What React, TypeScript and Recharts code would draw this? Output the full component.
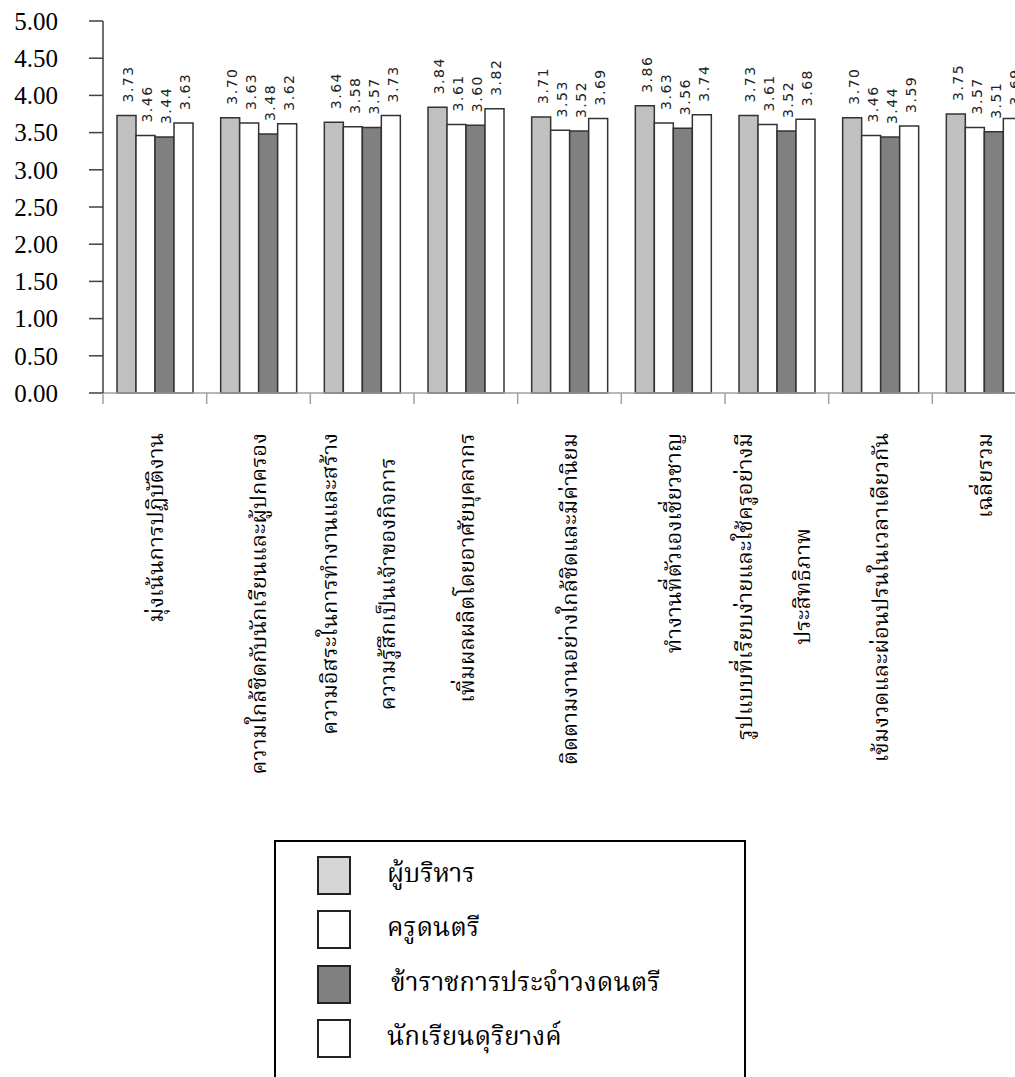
import { BarChart, Bar, XAxis, YAxis, Legend, LabelList } from 'recharts'

// categories (multi-line labels split by \n)
const CATEGORIES = [
  'มุ่งเน้นการปฏิบัติงาน',
  'ความใกล้ชิดกับนักเรียนและผู้ปกครอง',
  'ความอิสระในการทำงานและสร้าง\nความรู้สึกเป็นเจ้าของกิจการ',
  'เพิ่มผลผลิตโดยอาศัยบุคลากร',
  'ติดตามงานอย่างใกล้ชิดและมีค่านิยม',
  'ทำงานที่ตัวเองเชี่ยวชาญ',
  'รูปแบบที่เรียบง่ายและใช้ครูอย่างมี\nประสิทธิภาพ',
  'เข้มงวดและผ่อนปรนในเวลาเดียวกัน',
  'เฉลี่ยรวม',
]

const SERIES_NAMES = ['ผู้บริหาร', 'ครูดนตรี', 'ข้าราชการประจำวงดนตรี', 'นักเรียนดุริยางค์']

const ADMIN = [3.73, 3.70, 3.64, 3.84, 3.71, 3.86, 3.73, 3.70, 3.75]
const TEACHER = [3.46, 3.63, 3.58, 3.61, 3.53, 3.63, 3.61, 3.46, 3.57]
const OFFICER = [3.44, 3.48, 3.57, 3.60, 3.52, 3.56, 3.52, 3.44, 3.51]
const STUDENT = [3.63, 3.62, 3.73, 3.82, 3.69, 3.74, 3.68, 3.59, 3.69]

const Y_TICKS = [0, 0.5, 1, 1.5, 2, 2.5, 3, 3.5, 4, 4.5, 5]

const KEYS = ['s1', 's2', 's3', 's4']
const BAR_FILLS = ['#c0c0c0', '#ffffff', '#808080', '#ffffff']
const LEGEND_FILLS = ['#d6d6d6', '#ffffff', '#808080', '#ffffff']

const data = CATEGORIES.map((name, i) => ({
  name,
  s1: ADMIN[i],
  s2: TEACHER[i],
  s3: OFFICER[i],
  s4: STUDENT[i],
}))

const THAI_FONT = "'Noto Serif Thai', 'Noto Sans Thai', 'Tlwg Typo', Norasi, Garuda, 'DejaVu Sans', sans-serif"
const CAT_FONT_SIZE = 22

let ctx: CanvasRenderingContext2D | null = null
function textWidth(text: string, font: string) {
  if (!ctx) ctx = document.createElement('canvas').getContext('2d')
  if (!ctx) return text.length * 10
  ctx.font = font
  return ctx.measureText(text).width
}

function CategoryTick(props: any) {
  const { x, y, payload } = props
  const half = payload?.offset || 51.8
  const lines: string[] = String(payload.value).split('\n')
  const top = y + 40
  const longest = Math.max(...lines.map((l) => textWidth(l, `${CAT_FONT_SIZE}px ${THAI_FONT}`)))
  const lineGap = 58
  return (
    <g>
      <line x1={x - half} x2={x - half} y1={y} y2={y + 11} stroke="#a0a0a0" strokeWidth={1.5} />
      {lines.map((line, i) => {
        const lx = x - 4 + (i - (lines.length - 1) / 2) * lineGap
        const ly = lines.length > 1 ? top + longest / 2 : top
        return (
          <text
            key={i}
            x={lines.length > 1 ? lx : x}
            y={ly}
            dy="0.35em"
            transform={`rotate(-90, ${lines.length > 1 ? lx : x}, ${ly})`}
            textAnchor={lines.length > 1 ? 'middle' : 'end'}
            fontFamily={THAI_FONT}
            fontSize={CAT_FONT_SIZE}
            fill="#000"
          >
            {line}
          </text>
        )
      })}
    </g>
  )
}

function ValueLabel(props: any) {
  const { x, y, width, value } = props
  const lx = x + width / 2 + 2
  const ly = y - 13
  return (
    <text
      x={lx}
      y={ly}
      dy="0.35em"
      transform={`rotate(-90, ${lx}, ${ly})`}
      textAnchor="start"
      fontFamily="'DejaVu Sans', sans-serif"
      fontSize={14}
      letterSpacing={1.5}
      fill="#222"
    >
      {Number(value).toFixed(2)}
    </text>
  )
}

function LegendBox() {
  return (
    <div
      style={{
        position: 'relative',
        width: 472,
        height: 260,
        border: '2px solid #000',
        boxSizing: 'border-box',
        background: '#fff',
      }}
    >
      {SERIES_NAMES.map((name, i) => (
        <div key={name}>
          <div
            style={{
              position: 'absolute',
              left: 41,
              top: 14 + i * 54.3,
              width: 34,
              height: 39,
              border: '2px solid #222',
              boxSizing: 'border-box',
              background: LEGEND_FILLS[i],
            }}
          />
          <div
            style={{
              position: 'absolute',
              left: 111 + (i === 2 ? 4 : 0),
              top: 14 + i * 54.3,
              height: 39,
              lineHeight: '39px',
              fontFamily: THAI_FONT,
              fontSize: 26,
              color: '#000',
              whiteSpace: 'nowrap',
            }}
          >
            {name}
          </div>
        </div>
      ))}
    </div>
  )
}

export default function App() {
  return (
    <div
      style={{
        position: 'fixed',
        left: 0,
        top: 0,
        width: 1015,
        height: 1077,
        overflow: 'hidden',
        background: '#fff',
      }}
    >
      <BarChart
        width={1040}
        height={1077}
        data={data}
        margin={{ top: 21, right: 4, bottom: 0, left: 0 }}
        barCategoryGap={14}
        barGap={0}
      >
        <XAxis
          dataKey="name"
          height={684}
          interval={0}
          tickLine={false}
          tickSize={0}
          tickMargin={0}
          axisLine={{ stroke: '#a0a0a0', strokeWidth: 1.5 }}
          tick={<CategoryTick />}
        />
        <YAxis
          width={103}
          domain={[0, 5]}
          ticks={Y_TICKS}
          interval={0}
          tickSize={14}
          tickMargin={31}
          tickFormatter={(v: number) => v.toFixed(2)}
          axisLine={{ stroke: '#404040', strokeWidth: 1.5 }}
          tickLine={{ stroke: '#404040', strokeWidth: 1.5 }}
          tick={{ fontFamily: "'Liberation Serif', 'Times New Roman', serif", fontSize: 25, fill: '#000' }}
        />
        <Legend
          layout="horizontal"
          verticalAlign="middle"
          align="center"
          wrapperStyle={{ left: 274, top: 840, width: 472, height: 260 }}
          content={<LegendBox />}
        />
        {KEYS.map((k, i) => (
          <Bar
            key={k}
            dataKey={k}
            name={SERIES_NAMES[i]}
            fill={BAR_FILLS[i]}
            stroke="#333"
            strokeWidth={1.5}
            isAnimationActive={false}
          >
            <LabelList dataKey={k} content={<ValueLabel />} />
          </Bar>
        ))}
      </BarChart>
    </div>
  )
}
